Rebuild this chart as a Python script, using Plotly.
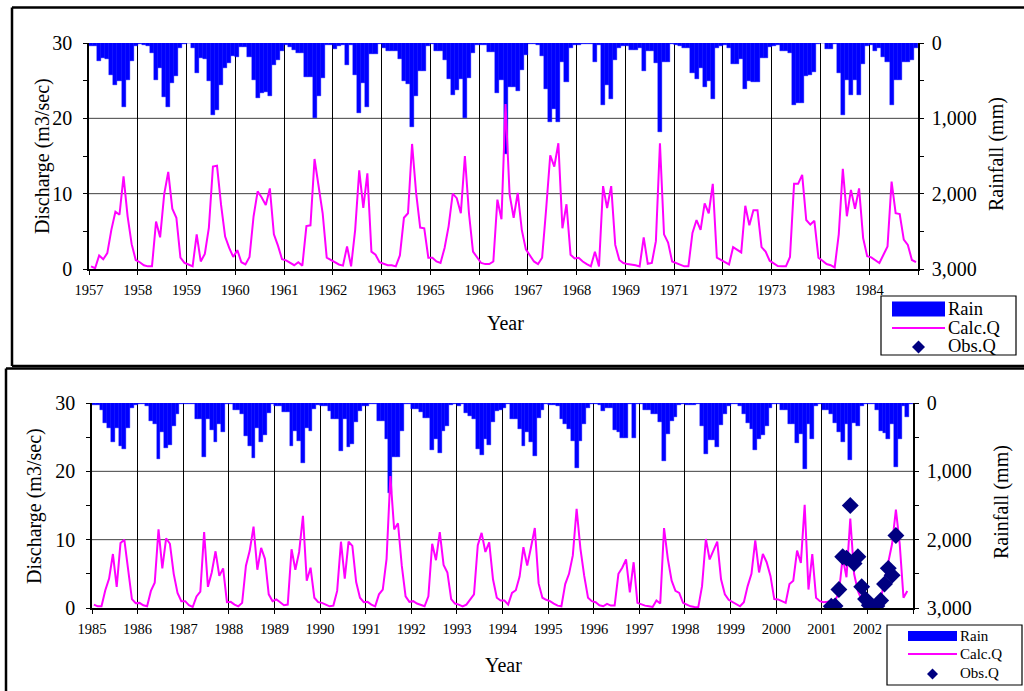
import plotly.graph_objects as go

W, H = 1024, 691
FONT = "Liberation Serif"

years_top = [1957, 1958, 1959, 1960, 1961, 1962, 1963, 1965, 1966, 1967,
             1968, 1969, 1971, 1972, 1973, 1983, 1984]
years_bot = list(range(1985, 2003))

# monthly rainfall (mm), top panel, one row per year
rain_top = [
    45, 45, 235, 200, 215, 420, 555, 500, 845, 490, 245, 40,
    15, 20, 40, 130, 495, 330, 720, 855, 525, 440, 60, 15,
    5, 65, 400, 200, 210, 500, 950, 895, 555, 330, 260, 175,
    180, 55, 50, 180, 490, 725, 665, 650, 700, 290, 230, 110,
    20, 50, 90, 130, 130, 445, 450, 990, 710, 465, 25, 20,
    80, 45, 20, 290, 30, 420, 925, 530, 845, 140, 140, 10,
    65, 100, 100, 110, 215, 510, 540, 1110, 700, 365, 365, 45,
    10, 110, 110, 230, 475, 690, 630, 480, 990, 465, 135, 20,
    20, 20, 125, 125, 665, 490, 1480, 590, 590, 633, 355, 155,
    10, 10, 25, 177, 615, 1045, 880, 1045, 250, 520, 65, 20,
    30, 15, 15, 15, 250, 30, 820, 560, 745, 220, 65, 40,
    40, 90, 90, 60, 370, 100, 100, 265, 1180, 258, 258, 10,
    20, 40, 65, 65, 400, 480, 330, 585, 500, 745, 65, 40,
    30, 65, 280, 280, 210, 605, 510, 520, 520, 200, 200, 50,
    45, 20, 110, 110, 130, 820, 790, 800, 440, 420, 385, 10,
    0, 75, 75, 10, 400, 950, 487, 695, 487, 695, 280, 40,
    30, 110, 60, 190, 250, 820, 487, 487, 250, 250, 230, 65,
]

# monthly calculated discharge (m3/sec), top panel
q_top = [
    0.35, 0.1, 1.8, 1.3, 2.1, 5.2, 7.6, 7.2, 12.3, 7.0, 3.3, 1.2,
    0.9, 0.5, 0.35, 0.35, 6.3, 4.2, 9.9, 12.9, 8.0, 6.8, 1.5, 0.8,
    0.6, 0.35, 4.6, 1.0, 2.0, 5.5, 13.6, 13.7, 8.5, 4.3, 2.8, 1.6,
    2.5, 0.9, 0.6, 1.6, 7.0, 10.3, 9.5, 8.5, 10.7, 4.6, 3.1, 1.3,
    1.15, 0.8, 0.5, 0.9, 0.45, 5.7, 5.8, 14.6, 11.2, 7.4, 1.5, 1.2,
    1.0, 0.6, 0.45, 3.0, 0.35, 5.2, 13.1, 8.1, 12.7, 2.3, 1.9, 0.9,
    0.7, 0.5, 0.5, 0.35, 1.8, 6.8, 7.4, 16.6, 10.1, 5.5, 5.4, 1.5,
    1.5, 1.0, 0.8, 2.8, 5.7, 10.0, 9.4, 7.4, 15.0, 7.4, 2.3, 1.5,
    0.8, 0.65, 0.65, 1.0, 9.2, 6.6, 21.9, 9.9, 6.8, 10.1, 5.2, 2.6,
    1.8, 1.0, 0.66, 1.5, 8.0, 15.1, 13.6, 16.7, 5.4, 8.6, 1.9, 1.4,
    1.5, 1.0, 0.65, 0.35, 2.3, 0.35, 11.0, 8.1, 11.0, 3.2, 1.2, 0.8,
    0.65, 0.6, 0.5, 0.35, 4.2, 0.7, 0.8, 3.7, 16.7, 4.6, 3.5, 1.0,
    0.8, 0.5, 0.35, 0.35, 4.8, 6.5, 5.2, 8.7, 7.4, 11.3, 1.5, 1.2,
    0.9, 0.6, 2.9, 2.6, 2.2, 8.4, 5.8, 7.8, 7.8, 2.9, 2.3, 1.1,
    0.8, 0.4, 0.35, 0.35, 1.6, 11.3, 11.3, 12.5, 6.5, 5.9, 6.4, 1.5,
    1.1, 0.66, 0.5, 0.2, 4.6, 13.3, 7.0, 10.5, 8.0, 10.7, 4.1, 1.7,
    1.55, 1.2, 0.8, 1.9, 3.0, 11.6, 7.4, 7.3, 3.9, 3.2, 1.2, 0.9,
]

# monthly rainfall (mm), bottom panel
rain_bot = [
    25, 25, 96, 290, 360, 570, 360, 635, 673, 360, 72, 25,
    20, 20, 48, 265, 313, 818, 425, 663, 615, 337, 168, 20,
    15, 15, 15, 240, 240, 790, 240, 392, 574, 300, 430, 20,
    20, 96, 96, 155, 480, 625, 808, 360, 568, 470, 144, 20,
    38, 38, 135, 135, 635, 410, 553, 880, 360, 410, 86, 30,
    38, 48, 120, 230, 230, 700, 240, 640, 600, 280, 120, 48,
    40, 20, 20, 270, 270, 526, 1315, 790, 790, 405, 20, 20,
    86, 86, 135, 215, 215, 683, 520, 730, 410, 337, 25, 10,
    48, 10, 144, 183, 230, 673, 755, 530, 615, 280, 120, 96,
    70, 20, 240, 240, 375, 625, 430, 577, 770, 216, 96, 20,
    25, 25, 40, 240, 313, 385, 553, 950, 553, 313, 70, 20,
    15, 25, 120, 72, 72, 400, 425, 515, 515, 20, 515, 15,
    20, 96, 96, 155, 155, 280, 855, 455, 265, 200, 30, 15,
    30, 25, 25, 20, 337, 745, 540, 540, 650, 315, 168, 40,
    10, 20, 48, 168, 298, 385, 683, 530, 470, 337, 72, 20,
    20, 96, 96, 313, 313, 587, 455, 962, 300, 520, 50, 20,
    96, 96, 168, 290, 425, 577, 310, 840, 290, 337, 50, 20,
    20, 20, 96, 410, 433, 530, 300, 940, 530, 40, 200, 20,
]

# monthly calculated discharge (m3/sec), bottom panel
q_bot = [
    0.5, 0.25, 0.25, 2.6, 4.3, 7.9, 3.1, 9.5, 10.0, 5.2, 1.3, 0.7,
    0.75, 0.4, 0.25, 2.5, 3.7, 11.5, 5.8, 10.2, 9.4, 5.0, 2.2, 1.0,
    1.0, 0.4, 0.15, 1.7, 2.4, 11.1, 3.1, 5.2, 8.3, 4.7, 5.8, 0.85,
    0.9, 0.5, 0.25, 0.75, 6.2, 8.4, 11.9, 5.6, 8.8, 7.2, 2.0, 1.0,
    1.25, 0.85, 0.4, 0.5, 8.6, 5.6, 8.2, 13.5, 4.0, 5.9, 1.5, 0.85,
    0.75, 0.5, 0.25, 0.35, 2.5, 9.7, 4.3, 9.7, 9.1, 3.8, 1.5, 0.85,
    0.9, 0.5, 0.25, 2.0, 2.7, 7.2, 19.3, 11.5, 12.4, 6.2, 1.7, 0.9,
    1.0, 0.65, 0.4, 0.25, 1.7, 9.4, 7.0, 11.1, 6.3, 5.2, 1.3, 0.65,
    0.5, 0.25, 0.5, 1.3, 2.0, 9.2, 11.0, 8.2, 9.6, 4.2, 1.5, 1.1,
    1.1, 0.5, 2.2, 2.6, 4.6, 8.9, 6.2, 8.9, 11.7, 3.6, 1.5, 1.2,
    1.0, 0.65, 0.35, 0.25, 3.5, 5.0, 7.7, 14.5, 8.7, 4.7, 1.5, 1.0,
    0.85, 0.4, 0.25, 0.6, 0.35, 0.35, 5.0, 5.9, 7.1, 2.3, 6.7, 0.75,
    0.5, 0.35, 0.25, 0.15, 1.1, 0.65, 11.7, 7.2, 4.0, 2.5, 2.2, 0.75,
    0.5, 0.25, 0.15, 0.1, 3.2, 10.1, 7.1, 8.3, 9.7, 4.2, 2.0, 1.2,
    0.85, 0.5, 0.25, 0.85, 3.2, 5.0, 9.9, 5.2, 7.9, 6.7, 4.7, 1.3,
    1.25, 1.0, 0.75, 3.5, 4.0, 8.4, 6.6, 15.1, 2.7, 7.9, 1.5, 1.0,
    0.85, 0.9, 1.0, 1.1, 2.2, 7.4, 4.5, 13.1, 5.0, 2.5, 1.2, 0.8,
    0.5, 0.25, 0.6, 1.25, 4.2, 6.7, 9.4, 14.4, 9.4, 1.5, 2.5, None,
]

# observed discharge, bottom panel (month index from Jan 1985, m3/sec)
obs_month = [194, 195, 196, 197, 198, 199, 200, 201, 202, 203,
             204, 205, 206, 207, 208, 209, 210, 211]
obs_q = [0.25, 0.3, 2.7, 7.5, 7.3, 15.0, 6.5, 7.5, 3.1, 1.3,
         0.4, 0.15, 0.3, 1.1, 3.5, 5.8, 4.8, 10.6]

BLUE = "#0000FF"
MAGENTA = "#FF00FF"
NAVY = "#000080"
GRID = "#404040"


def px(x):
    return x / W


def py(y):
    return 1 - y / H


idx_top = list(range(len(rain_top)))
idx_bot = list(range(len(rain_bot)))

fig = go.Figure()
fig.add_trace(go.Bar(x=idx_top, y=rain_top, xaxis="x", yaxis="y2", width=1,
                     marker=dict(color=BLUE, line=dict(width=0.4, color=BLUE)),
                     name="Rain"))
fig.add_trace(go.Scatter(x=idx_top, y=q_top, xaxis="x", yaxis="y3", mode="lines",
                         line=dict(color=MAGENTA, width=2), name="Calc.Q"))
fig.add_trace(go.Bar(x=idx_bot, y=rain_bot, xaxis="x2", yaxis="y5", width=1,
                     marker=dict(color=BLUE, line=dict(width=0.4, color=BLUE)),
                     name="Rain"))
fig.add_trace(go.Scatter(x=idx_bot, y=q_bot, xaxis="x2", yaxis="y6", mode="lines",
                         line=dict(color=MAGENTA, width=2), name="Calc.Q",
                         connectgaps=False))
fig.add_trace(go.Scatter(x=obs_month, y=obs_q, xaxis="x2", yaxis="y6", mode="markers",
                         marker=dict(symbol="diamond", size=13, color=NAVY, opacity=1,
                                     line=dict(width=0)),
                         name="Obs.Q"))

tick_font_x = dict(family=FONT, size=14.5, color="black")
tick_font_y = dict(family=FONT, size=20, color="black")


def xaxis_cfg(x0, x1, anchor, years):
    n = len(years)
    return dict(domain=[px(x0), px(x1)], anchor=anchor, range=[-0.5, n * 12 - 0.5],
                tickmode="array", tickvals=[i * 12 - 0.5 for i in range(n + 1)],
                ticktext=[str(y) for y in years] + [""],
                showgrid=True, gridcolor="black", gridwidth=1,
                ticks="outside", ticklen=4, tickcolor="black",
                showline=True, linecolor="black", linewidth=1.5,
                tickfont=tick_font_x, ticklabelstandoff=3,
                zeroline=False, fixedrange=True, automargin=False)


def yleft_cfg(y0, y1, anchor):
    return dict(domain=[py(y1), py(y0)], anchor=anchor, range=[0, 30],
                tickmode="array", tickvals=[0, 10, 20, 30],
                ticks="outside", ticklen=4, tickcolor="black",
                minor=dict(tickmode="array", tickvals=[5, 15, 25], ticks="outside",
                           ticklen=4, tickcolor="black", showgrid=False),
                showgrid=False, showline=True, linecolor="black", linewidth=1.5,
                tickfont=tick_font_y, ticklabelstandoff=7,
                zeroline=False, fixedrange=True, automargin=False)


def yright_cfg(over, anchor):
    return dict(overlaying=over, side="right", anchor=anchor, range=[3000, 0],
                tickmode="array", tickvals=[0, 1000, 2000, 3000],
                ticktext=["0", "1,000", "2,000", "3,000"],
                ticks="outside", ticklen=4, tickcolor="black",
                minor=dict(tickmode="array", tickvals=[500, 1500, 2500], ticks="outside",
                           ticklen=4, tickcolor="black", showgrid=False),
                showgrid=False, showline=True, linecolor="black", linewidth=1.5,
                tickfont=tick_font_y, ticklabelstandoff=4,
                zeroline=False, fixedrange=True, automargin=False)


def yhidden_cfg(over, anchor):
    return dict(overlaying=over, anchor=anchor, range=[0, 30], visible=False,
                fixedrange=True)


shapes = []
annotations = []

# horizontal grid lines at 10 and 20 (below the data)
for xr, yr in (("x", "y"), ("x2", "y4")):
    for v in (10, 20):
        shapes.append(dict(type="line", xref=xr + " domain", yref=yr, x0=0, x1=1,
                           y0=v, y1=v, line=dict(color=GRID, width=1), layer="below"))


def frame_line(x0, y0, x1, y1):
    shapes.append(dict(type="line", xref="paper", yref="paper",
                       x0=px(x0), x1=px(x1), y0=py(y0), y1=py(y1),
                       line=dict(color="black", width=2.5), layer="above"))


# outer frames (open at right / bottom edge of the picture)
frame_line(12, 7.5, W, 7.5)
frame_line(12, 7.5, 12, 366)
frame_line(12, 366, W, 366)
frame_line(6, 368.5, W, 368.5)
frame_line(6, 368.5, 6, H)


def add_legend(bx0, by0, bx1, by1, sx0, sx1, tx, rows, fsize, rect_h, dr):
    shapes.append(dict(type="rect", xref="paper", yref="paper",
                       x0=px(bx0), x1=px(bx1), y0=py(by1), y1=py(by0),
                       line=dict(color="black", width=1.2),
                       fillcolor="rgba(0,0,0,0)", layer="above"))
    r_rain, r_calc, r_obs = rows
    shapes.append(dict(type="rect", xref="paper", yref="paper",
                       x0=px(sx0), x1=px(sx1), y0=py(r_rain + rect_h / 2),
                       y1=py(r_rain - rect_h / 2), line=dict(width=0),
                       fillcolor=BLUE, layer="above"))
    shapes.append(dict(type="line", xref="paper", yref="paper",
                       x0=px(sx0), x1=px(sx1), y0=py(r_calc), y1=py(r_calc),
                       line=dict(color=MAGENTA, width=2), layer="above"))
    cx, cy = (sx0 + sx1) / 2, r_obs + 1
    path = "M {a},{b} L {c},{d} L {a},{e} L {f},{d} Z".format(
        a=px(cx), b=py(cy - dr), c=px(cx + dr), d=py(cy), e=py(cy + dr), f=px(cx - dr))
    shapes.append(dict(type="path", xref="paper", yref="paper", path=path,
                       fillcolor=NAVY, line=dict(width=0), layer="above"))
    for label, yy in (("Rain", r_rain), ("Calc.Q", r_calc), ("Obs.Q", r_obs)):
        annotations.append(dict(text=label, xref="paper", yref="paper",
                                x=px(tx), y=py(yy), xanchor="left", yanchor="middle",
                                showarrow=False, borderpad=0,
                                font=dict(family=FONT, size=fsize, color="black")))


add_legend(881, 296, 1016, 355, 892, 945, 947, (309, 328, 346), 18.5, 15, 6.5)
add_legend(887, 625, 1022, 685, 908, 957, 959, (636, 654, 673), 15, 10, 5.5)

# axis titles
title_font = dict(family=FONT, size=20, color="black")
for (x, y, txt, ang) in ((42, 156, "Discharge (m3/sec)", -90),
                         (997, 154, "Rainfall (mm)", -90),
                         (505, 323, "Year", 0),
                         (34, 506, "Discharge (m3/sec)", -90),
                         (1002, 502, "Rainfall (mm)", -90),
                         (503, 665, "Year", 0)):
    annotations.append(dict(text=txt, xref="paper", yref="paper", x=px(x), y=py(y),
                            xanchor="center", yanchor="middle", textangle=ang,
                            showarrow=False, font=title_font))

fig.update_layout(
    width=W, height=H, margin=dict(l=0, r=0, t=0, b=0, autoexpand=False),
    paper_bgcolor="white", plot_bgcolor="rgba(0,0,0,0)",
    showlegend=False, bargap=0,
    font=dict(family=FONT, color="black"),
    xaxis=xaxis_cfg(89, 918, "y", years_top),
    yaxis=yleft_cfg(43, 269, "x"),
    yaxis2=yright_cfg("y", "x"),
    yaxis3=yhidden_cfg("y", "x"),
    xaxis2=xaxis_cfg(92, 913, "y4", years_bot),
    yaxis4=yleft_cfg(403, 608, "x2"),
    yaxis5=yright_cfg("y4", "x2"),
    yaxis6=yhidden_cfg("y4", "x2"),
    shapes=shapes, annotations=annotations,
)

fig.write_html("out.html", include_plotlyjs=True, config={"displayModeBar": False},
               post_script="document.body.style.margin='0';document.body.style.overflow='hidden';")
